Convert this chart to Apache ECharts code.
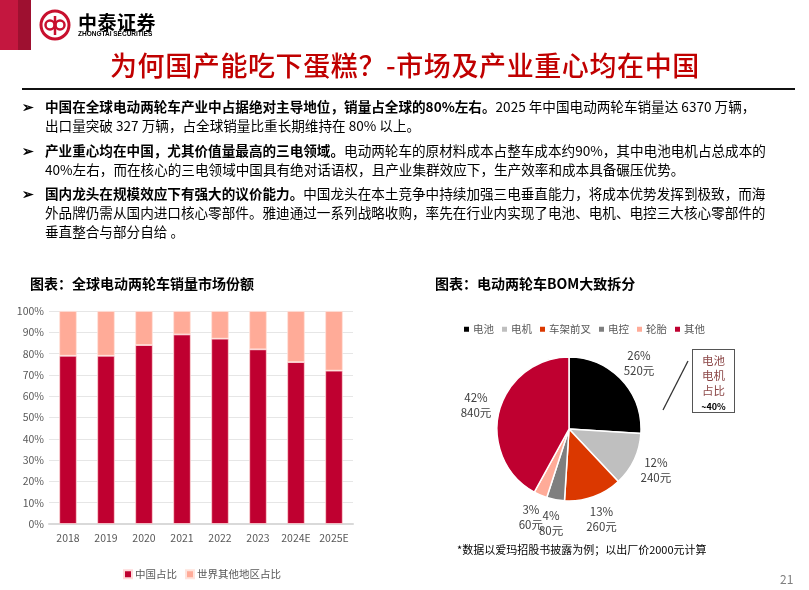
<!DOCTYPE html>
<html>
<head>
<meta charset="utf-8">
<script src="https://cdn.jsdelivr.net/npm/echarts@6/dist/echarts.min.js"></script>
<style>
  html, body { margin: 0; padding: 0; background: #fff; }
  body { width: 809px; height: 590px; position: relative; overflow: hidden;
         font-family: "Noto Sans CJK SC", "Noto Sans", sans-serif; color: #000; }
  #chart { position: absolute; left: 0; top: 0; width: 809px; height: 590px; }
  .abs { position: absolute; white-space: nowrap; }
  .stripe1 { left: 0; top: 0; width: 18px; height: 50px; background: #c4173f; }
  .stripe2 { left: 18px; top: 0; width: 13px; height: 50px; background: #9e1030; }
  .brand { left: 78px; top: 8px; font-size: 19px; font-weight: 700; letter-spacing: 0.5px; }
  .brand-en { left: 78px; top: 30px; font-size: 6.5px; font-weight: 700; font-family: "Liberation Sans", sans-serif; }
  .title { left: 110px; top: 45px; font-size: 27px; color: #c00000; letter-spacing: 0.6px; font-weight: 500; }
  .rule { left: 22px; top: 88px; width: 773px; height: 2px; background: #111; }
  .bul { left: 22px; font-size: 13.6px; line-height: 19px; }
  .bul b { font-weight: 700; }
  .bul .ar { display: inline-block; width: 23px; font-weight: 700; }
  .bul .ind { padding-left: 23px; }
  .sec { font-size: 14px; font-weight: 700; }
  .note { left: 457px; top: 541px; font-size: 11px; }
  .box { left: 692px; top: 349px; width: 43px; height: 64px; border: 1px solid #555;
         text-align: center; font-size: 11.5px; line-height: 15px; color: #8c4848; box-sizing: border-box; padding-top: 3px; }
  .box b { color: #000; font-size: 9px; }
  .pg { left: 780px; top: 570px; font-size: 12px; color: #7f7f7f; }
  svg.lg { position: absolute; left: 39px; top: 8px; }
  svg.sl { position: absolute; left: 0; top: 0; }
</style>
</head>
<body>
<div id="chart"></div>

<div class="abs stripe1"></div>
<div class="abs stripe2"></div>
<svg class="lg" width="32" height="34" viewBox="0 0 32 34">
  <circle cx="16" cy="17" r="14" fill="none" stroke="#c8102e" stroke-width="3"/>
  <circle cx="11" cy="17" r="4.5" fill="none" stroke="#c8102e" stroke-width="2.5"/>
  <circle cx="21" cy="17" r="4.5" fill="none" stroke="#c8102e" stroke-width="2.5"/>
  <line x1="16" y1="8" x2="16" y2="27" stroke="#c8102e" stroke-width="2.5"/>
</svg>
<div class="abs brand">中泰证券</div>
<div class="abs brand-en">ZHONGTAI SECURITIES</div>
<div class="abs title">为何国产能吃下蛋糕？-市场及产业重心均在中国</div>
<div class="abs rule"></div>

<div class="abs bul" style="top:97px">
  <span class="ar">➢</span><b>中国在全球电动两轮车产业中占据绝对主导地位，销量占全球的80%左右。</b>2025 年中国电动两轮车销量达 6370 万辆，<br>
  <span class="ind">出口量突破 327 万辆，占全球销量比重长期维持在 80% 以上。</span>
</div>
<div class="abs bul" style="top:141px">
  <span class="ar">➢</span><b>产业重心均在中国，尤其价值量最高的三电领域。</b>电动两轮车的原材料成本占整车成本约90%，其中电池电机占总成本的<br>
  <span class="ind">40%左右，而在核心的三电领域中国具有绝对话语权，且产业集群效应下，生产效率和成本具备碾压优势。</span>
</div>
<div class="abs bul" style="top:184px">
  <span class="ar">➢</span><b>国内龙头在规模效应下有强大的议价能力。</b>中国龙头在本土竞争中持续加强三电垂直能力，将成本优势发挥到极致，而海<br>
  <span class="ind">外品牌仍需从国内进口核心零部件。雅迪通过一系列战略收购，率先在行业内实现了电池、电机、电控三大核心零部件的</span><br>
  <span class="ind">垂直整合与部分自给 。</span>
</div>

<div class="abs sec" style="left:30px; top:273px">图表：全球电动两轮车销量市场份额</div>
<div class="abs sec" style="left:435px; top:273px">图表：电动两轮车BOM大致拆分</div>

<svg class="sl" width="809" height="590"><line x1="663" y1="410" x2="688" y2="361" stroke="#333" stroke-width="1.3"/></svg>
<div class="abs box">电池<br>电机<br>占比<br><b>~40%</b></div>
<div class="abs note">*数据以爱玛招股书披露为例；以出厂价2000元计算</div>
<div class="abs pg">21</div>

<script>
// 市场份额（%）
const years = ['2018', '2019', '2020', '2021', '2022', '2023', '2024E', '2025E'];
const chinaShare = [79, 79, 84, 89, 87, 82, 76, 72];
const otherShare = [21, 21, 16, 11, 13, 18, 24, 28];

// BOM 拆分
const bomNames = ['电池', '电机', '车架前叉', '电控', '轮胎', '其他'];
const bomPct = [26, 12, 13, 4, 3, 42];
const bomYuan = [520, 240, 260, 80, 60, 840];
const bomColors = ['#000000', '#bfbfbf', '#db3800', '#7f7f7f', '#ffab98', '#bf0030'];

const pieData = bomNames.map((n, i) => ({
  name: n, value: bomPct[i], yuan: bomYuan[i], itemStyle: { color: bomColors[i] }
}));

const myChart = echarts.init(document.getElementById('chart'));
myChart.setOption({
  animation: false,
  textStyle: { fontFamily: '"Noto Sans CJK SC", sans-serif' },
  legend: [{
    data: ['中国占比', '世界其他地区占比'],
    left: 118, top: 564,
    itemWidth: 8, itemHeight: 8, itemGap: 8,
    icon: 'rect',
    textStyle: { fontSize: 10.5, color: '#595959', padding: [0, 0, 0, -2] }
  }, {
    data: bomNames,
    left: 457, top: 319,
    itemWidth: 7, itemHeight: 7, itemGap: 6,
    icon: 'rect',
    textStyle: { fontSize: 10.5, color: '#595959', padding: [0, 0, 0, -2] }
  }],
  grid: { left: 49, right: 456, top: 311, bottom: 66 },
  xAxis: {
    type: 'category', data: years,
    axisTick: { show: false },
    axisLine: { lineStyle: { color: '#d9d9d9', width: 2 } },
    axisLabel: { color: '#595959', fontSize: 10.5, margin: 9, interval: 0 }
  },
  yAxis: {
    type: 'value', min: 0, max: 100, interval: 10,
    axisLabel: { formatter: '{value}%', color: '#595959', fontSize: 10.5, margin: 5 },
    splitLine: { lineStyle: { color: '#e6e6e6' } }
  },
  series: [{
    name: '中国占比', type: 'bar', stack: 's', data: chinaShare, barWidth: '46%',
    itemStyle: { color: '#bf0030', borderColor: '#ffd9d9', borderWidth: 0.8 }
  }, {
    name: '世界其他地区占比', type: 'bar', stack: 's', data: otherShare,
    itemStyle: { color: '#ffab98', borderColor: '#ffe3dc', borderWidth: 0.8 }
  }, {
    name: 'BOM', type: 'pie', center: [569, 429], radius: 72,
    startAngle: 90, avoidLabelOverlap: false,
    data: pieData,
    itemStyle: { borderColor: '#fff', borderWidth: 1.5 },
    label: {
      position: 'outside', distanceToLabelLine: 0,
      fontSize: 11.5, color: '#404040', lineHeight: 15,
      formatter: p => p.value + '%\n' + p.data.yuan + '元'
    },
    labelLine: { show: false, length: 24, length2: 0 },
    labelLayout: { align: 'center', verticalAlign: 'middle', hideOverlap: false }
  }]
});
</script>
</body>
</html>
